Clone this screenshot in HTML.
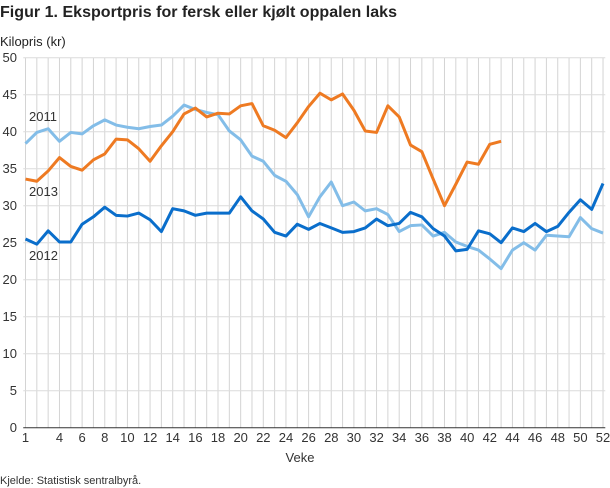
<!DOCTYPE html>
<html><head><meta charset="utf-8"><style>
body{margin:0;background:#fff;width:610px;height:488px;overflow:hidden;font-family:"Liberation Sans",sans-serif;}
svg{position:absolute;left:0;top:0}
</style></head><body>
<svg width="610" height="488" xmlns="http://www.w3.org/2000/svg" font-family="Liberation Sans, sans-serif">
<text x="0" y="17" font-size="16" font-weight="bold" fill="#222" textLength="397">Figur 1. Eksportpris for fersk eller kjølt oppalen laks</text>
<text x="0" y="46" font-size="13" fill="#222">Kilopris (kr)</text>
<g transform="translate(25.5,427.7) scale(11.324,-7.4)" fill="none">
<g stroke="#d4d4d4" stroke-width="1" vector-effect="non-scaling-stroke">
<path vector-effect="non-scaling-stroke" d="M0,0V50M1,0V50M2,0V50M3,0V50M4,0V50M5,0V50M6,0V50M7,0V50M8,0V50M9,0V50M10,0V50M11,0V50M12,0V50M13,0V50M14,0V50M15,0V50M16,0V50M17,0V50M18,0V50M19,0V50M20,0V50M21,0V50M22,0V50M23,0V50M24,0V50M25,0V50M26,0V50M27,0V50M28,0V50M29,0V50M30,0V50M31,0V50M32,0V50M33,0V50M34,0V50M35,0V50M36,0V50M37,0V50M38,0V50M39,0V50M40,0V50M41,0V50M42,0V50M43,0V50M44,0V50M45,0V50M46,0V50M47,0V50M48,0V50M49,0V50M50,0V50M51,0V50"/>
<path vector-effect="non-scaling-stroke" stroke="#dcdcdc" d="M-0.2,5H51.2M-0.2,10H51.2M-0.2,15H51.2M-0.2,20H51.2M-0.2,25H51.2M-0.2,30H51.2M-0.2,35H51.2M-0.2,40H51.2M-0.2,45H51.2M-0.2,50H51.2"/>
</g>
<path vector-effect="non-scaling-stroke" stroke="#333" stroke-width="1" d="M-0.2,0H51.2"/>
<polyline vector-effect="non-scaling-stroke" stroke="#83bde8" stroke-width="3" stroke-linejoin="round" points="0,38.4 1,39.9 2,40.4 3,38.7 4,39.9 5,39.7 6,40.8 7,41.6 8,40.9 9,40.6 10,40.4 11,40.7 12,40.9 13,42.1 14,43.6 15,43 16,42.6 17,42.3 18,40.1 19,38.9 20,36.7 21,36 22,34.1 23,33.3 24,31.5 25,28.5 26,31.2 27,33.2 28,30 29,30.5 30,29.3 31,29.6 32,28.8 33,26.5 34,27.3 35,27.4 36,25.9 37,26.4 38,25.1 39,24.5 40,24 41,22.8 42,21.5 43,24 44,25 45,24 46,26 47,25.9 48,25.8 49,28.4 50,26.9 51,26.3"/>
<polyline vector-effect="non-scaling-stroke" stroke="#0a6ecb" stroke-width="3" stroke-linejoin="round" points="0,25.5 1,24.8 2,26.6 3,25.1 4,25.1 5,27.5 6,28.5 7,29.8 8,28.7 9,28.6 10,29 11,28.1 12,26.5 13,29.6 14,29.3 15,28.7 16,29 17,29 18,29 19,31.2 20,29.3 21,28.2 22,26.4 23,25.9 24,27.5 25,26.8 26,27.6 27,27 28,26.4 29,26.5 30,27 31,28.2 32,27.3 33,27.6 34,29.1 35,28.5 36,26.9 37,25.9 38,23.9 39,24.1 40,26.6 41,26.2 42,25 43,27 44,26.5 45,27.6 46,26.5 47,27.2 48,29.1 49,30.8 50,29.5 51,33"/>
<polyline vector-effect="non-scaling-stroke" stroke="#ee7a22" stroke-width="3" stroke-linejoin="round" points="0,33.6 1,33.3 2,34.7 3,36.5 4,35.3 5,34.8 6,36.2 7,37 8,39 9,38.9 10,37.7 11,36 12,38.1 13,40 14,42.4 15,43.2 16,42 17,42.5 18,42.4 19,43.5 20,43.8 21,40.8 22,40.2 23,39.2 24,41.2 25,43.4 26,45.2 27,44.3 28,45.1 29,42.9 30,40.1 31,39.9 32,43.5 33,42 34,38.2 35,37.3 36,33.6 37,30 38,32.9 39,35.9 40,35.6 41,38.3 42,38.7"/>
</g>
<g font-size="13" fill="#333">
<text x="29" y="121">2011</text><text x="29" y="196">2013</text><text x="29" y="260">2012</text>
</g>
<g font-size="13" fill="#333" text-anchor="end">
<text x="17" y="62">50</text><text x="17" y="99">45</text><text x="17" y="136">40</text><text x="17" y="173">35</text><text x="17" y="210">30</text><text x="17" y="247">25</text><text x="17" y="284">20</text><text x="17" y="321">15</text><text x="17" y="358">10</text><text x="17" y="395">5</text><text x="17" y="432">0</text>
</g>
<g font-size="13" fill="#333" text-anchor="middle">
<text x="25.5" y="442">1</text><text x="59.5" y="442">4</text><text x="82.1" y="442">6</text><text x="104.8" y="442">8</text><text x="127.4" y="442">10</text><text x="150.1" y="442">12</text><text x="172.7" y="442">14</text><text x="195.4" y="442">16</text><text x="218" y="442">18</text><text x="240.7" y="442">20</text><text x="263.3" y="442">22</text><text x="286" y="442">24</text><text x="308.6" y="442">26</text><text x="331.3" y="442">28</text><text x="353.9" y="442">30</text><text x="376.6" y="442">32</text><text x="399.2" y="442">34</text><text x="421.9" y="442">36</text><text x="444.5" y="442">38</text><text x="467.2" y="442">40</text><text x="489.8" y="442">42</text><text x="512.5" y="442">44</text><text x="535.1" y="442">46</text><text x="557.8" y="442">48</text><text x="580.4" y="442">50</text><text x="603" y="442">52</text>
<text x="300" y="462">Veke</text>
</g>
<text x="0" y="484" font-size="11" fill="#333">Kjelde: Statistisk sentralbyrå.</text>
</svg>
</body></html>
